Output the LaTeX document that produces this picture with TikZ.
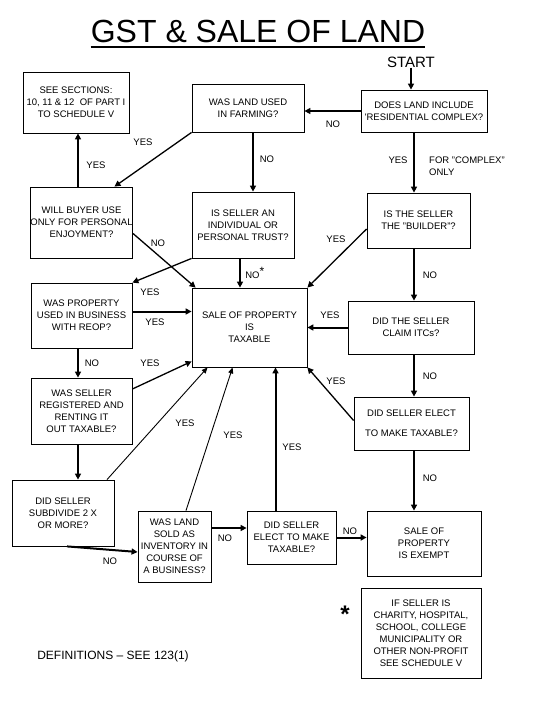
\documentclass[tikz,border=0pt]{standalone}
\usepackage{fontspec}
\setmainfont{Liberation Sans}
\usetikzlibrary{arrows.meta}
\newcommand{\boxfont}{\fontsize{9.5}{12}\selectfont}
\tikzset{
  qbox/.style={draw, line width=0.8pt, align=center, font=\boxfont, inner sep=0pt},
  lbl/.style={font=\boxfont, inner sep=0pt},
  flow/.style={-{Triangle[length=6pt,width=6pt]}, line width=2pt},
  slant/.style={-{Triangle[length=6pt,width=6pt]}, line width=1.3pt},
  fine/.style={-{Triangle[length=6pt,width=5pt]}, line width=0.9pt}
}

\begin{document}
\begin{tikzpicture}[x=1pt,y=-1pt]
  \useasboundingbox (0,0) rectangle (540,720);
  % Titel
  \node[font=\fontsize{32}{32}\selectfont, anchor=base, inner sep=0pt] (title) at (258,42) {GST \& SALE OF LAND};
  \draw[line width=1.6pt] ([yshift=-5pt]title.base west) -- ([yshift=-5pt]title.base east);
  \node[font=\fontsize{15}{15}\selectfont, inner sep=0pt] (start) at (411,62) {START};
  % Spalten
  \coordinate (lcol) at (78,0);
  \coordinate (mcol) at (253,0);
  \coordinate (rcol) at (414,0);
  % Kaesten
  \node[qbox, minimum width=106pt, minimum height=61pt] (sections) at (76,102.5) {SEE SECTIONS:\\10, 11 \& 12~~OF PART I\\TO SCHEDULE V};
  \node[qbox, minimum width=112pt, minimum height=48pt] (farming) at (248,108) {WAS LAND USED\\IN FARMING?};
  \node[qbox, minimum width=126pt, minimum height=42pt] (residential) at (424,111) {DOES LAND INCLUDE\\\textquotesingle RESIDENTIAL COMPLEX?};
  \node[qbox, minimum width=101pt, minimum height=71pt] (buyer) at (81.5,222.5) {WILL BUYER USE\\ONLY FOR PERSONAL\\ENJOYMENT?};
  \node[qbox, minimum width=102pt, minimum height=66pt] (individual) at (243,225) {IS SELLER AN\\INDIVIDUAL OR\\PERSONAL TRUST?};
  \node[qbox, minimum width=103pt, minimum height=55pt] (builder) at (418.5,220.5) {IS THE SELLER\\THE "BUILDER"?};
  \node[qbox, minimum width=101pt, minimum height=65pt] (business) at (81.5,315.5) {WAS PROPERTY\\USED IN BUSINESS\\WITH REOP?};
  \node[qbox, minimum width=115pt, minimum height=79pt] (taxable) at (249.5,327.5) {SALE OF PROPERTY\\IS\\TAXABLE};
  \node[qbox, minimum width=126pt, minimum height=53pt] (itcs) at (411,327.5) {DID THE SELLER\\CLAIM ITCs?};
  \node[qbox, minimum width=101pt, minimum height=66pt] (rented) at (81.5,411) {WAS SELLER\\REGISTERED AND\\RENTING IT\\OUT TAXABLE?};
  \node[qbox, minimum width=115pt, minimum height=53pt] (elect) at (411.5,423.5) {DID SELLER ELECT\\[8pt]TO MAKE TAXABLE?};
  \node[qbox, minimum width=102pt, minimum height=66pt] (subdivide) at (63,513) {DID SELLER\\SUBDIVIDE 2 X\\OR MORE?};
  \node[qbox, minimum width=73pt, minimum height=71pt] (inventory) at (174.5,546.5) {WAS LAND\\SOLD AS\\INVENTORY IN\\COURSE OF\\A BUSINESS?};
  \node[qbox, minimum width=89pt, minimum height=53pt] (electlow) at (291.5,537.5) {DID SELLER\\ELECT TO MAKE\\TAXABLE?};
  \node[qbox, minimum width=114pt, minimum height=65pt] (exempt) at (424,543.5) {SALE OF\\PROPERTY\\IS EXEMPT};
  \node[qbox, minimum width=120pt, minimum height=90pt] (note) at (421,633) {IF SELLER IS\\CHARITY, HOSPITAL,\\SCHOOL, COLLEGE\\MUNICIPALITY OR\\OTHER NON-PROFIT\\SEE SCHEDULE V};
  \node[font=\fontsize{24}{24}\selectfont\bfseries, inner sep=0pt] (star) at (345,614) {*};
  \node[font=\fontsize{12}{14}\selectfont, inner sep=0pt] (defs) at (113,656) {DEFINITIONS -- SEE 123(1)};
  % Verbindungen
  \draw[flow] (start.south) -- (start.south |- residential.north);
  \draw[flow] (residential.west) -- (residential.west -| farming.east);
  \draw[slant] (farming.south west) -- ([xshift=33pt]buyer.north);
  \draw[flow] (farming.south -| mcol) -- (individual.north -| mcol);
  \draw[flow] (residential.south -| rcol) -- (builder.north -| rcol);
  \draw[flow] (buyer.north -| lcol) -- (sections.south -| lcol);
  \draw[slant] ([yshift=-11pt]buyer.east) -- ([xshift=4pt]taxable.north west);
  \draw[slant] (individual.south west) -- (business.north east);
  \draw[flow] ([xshift=-3pt]individual.south) -- ([xshift=-3pt]individual.south |- taxable.north);
  \draw[slant] ([yshift=-8.5pt]builder.west) -- (taxable.north east);
  \draw[flow] (builder.south -| rcol) -- (itcs.north -| rcol);
  \draw[flow] ([yshift=4pt]business.east) -- ([yshift=4pt]business.east -| taxable.west);
  \draw[flow] (business.south -| lcol) -- (rented.north -| lcol);
  \draw[flow] (itcs.west) -- (itcs.west -| taxable.east);
  \draw[flow] (itcs.south -| rcol) -- (elect.north -| rcol);
  \draw[slant] ([yshift=22pt]rented.east) -- ([yshift=6pt]taxable.south west);
  \draw[slant] ([yshift=3pt]elect.west) -- (taxable.south east);
  \draw[flow] (elect.south -| rcol) -- (exempt.north -| rcol);
  \draw[flow] (rented.south -| lcol) -- (subdivide.north -| lcol);
  \draw[fine] ([xshift=44pt]subdivide.north) -- ([xshift=16pt]taxable.south west);
  \draw[flow] ([xshift=4pt]subdivide.south) -- ([yshift=-5.5pt]inventory.west);
  \draw[fine] ([xshift=11.5pt]inventory.north) -- ([xshift=41pt]taxable.south west);
  \draw[flow] ([yshift=18.5pt]inventory.east) -- ([yshift=18.5pt]inventory.east -| electlow.west);
  \draw[flow] ([xshift=-16pt]electlow.north) -- ([xshift=-16pt]electlow.north |- taxable.south);
  \draw[flow] (electlow.east) -- (electlow.east -| exempt.west);
  % Beschriftungen
  \node[lbl] (no1) at (333,124) {NO};
  \node[lbl] (yes1) at (143,142) {YES};
  \node[lbl] (no2) at (267,159) {NO};
  \node[lbl] (yes2) at (398,160) {YES};
  \node[lbl, align=left, anchor=west] (complex) at (429,166) {FOR "COMPLEX"\\ONLY};
  \node[lbl] (yes3) at (96,165) {YES};
  \node[lbl] (no3) at (158,243) {NO};
  \node[lbl] (yes4) at (150,292) {YES};
  \node[lbl] (no4) at (255,273) {NO\textsuperscript{\large *}};
  \node[lbl] (yes5) at (336,239) {YES};
  \node[lbl] (no5) at (430,275) {NO};
  \node[lbl] (yes6) at (155,322) {YES};
  \node[lbl] (yes7) at (330,315) {YES};
  \node[lbl] (no6) at (92,363) {NO};
  \node[lbl] (yes8) at (150,363) {YES};
  \node[lbl] (yes9) at (336,381) {YES};
  \node[lbl] (no7) at (430,376) {NO};
  \node[lbl] (yes10) at (185,423) {YES};
  \node[lbl] (yes11) at (233,435) {YES};
  \node[lbl] (yes12) at (292,447) {YES};
  \node[lbl] (no8) at (430,478) {NO};
  \node[lbl] (no9) at (110,561) {NO};
  \node[lbl] (no10) at (225,538) {NO};
  \node[lbl] (no11) at (350,531) {NO};
\end{tikzpicture}
\end{document}
